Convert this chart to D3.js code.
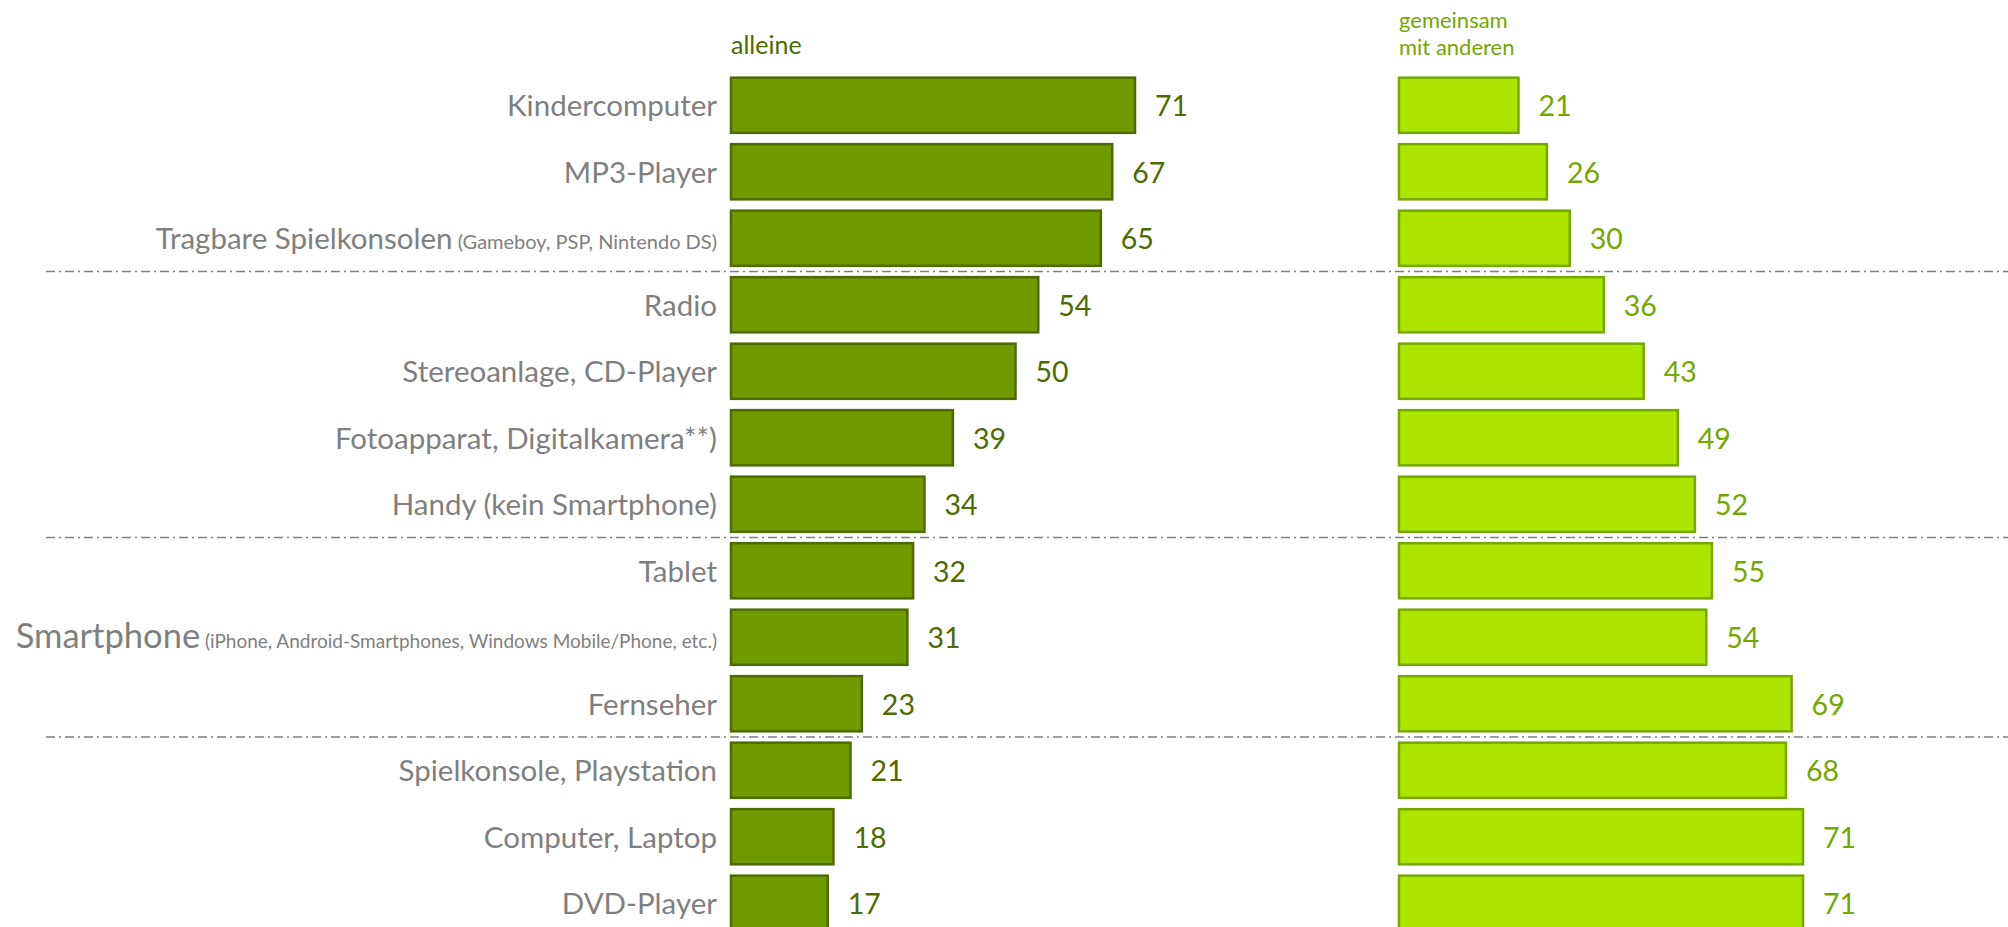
<!doctype html>
<html>
<head>
  <meta charset="utf-8">
  <title>alleine / gemeinsam</title>
  <style>
    html, body { margin: 0; padding: 0; background: #fff; }
    svg { display: block; }
    text { font-family: Lato, "Open Sans", sans-serif; }
  </style>
</head>
<body>
  <div id="chart"></div>

  <script src="https://d3js.org/d3.v7.min.js"></script>
  <script>

    // ..... Data .....
    const categories = [
      "Kindercomputer", "MP3-Player", "Tragbare Spielkonsolen",
      "Radio", "Stereoanlage, CD-Player", "Fotoapparat, Digitalkamera**)", "Handy (kein Smartphone)",
      "Tablet", "Smartphone", "Fernseher",
      "Spielkonsole, Playstation", "Computer, Laptop", "DVD-Player"
    ];
    const notes = ["", "", "(Gameboy, PSP, Nintendo DS)",
      "", "", "", "",
      "", "(iPhone, Android-Smartphones, Windows Mobile/Phone, etc.)", "",
      "", "", ""];
    const alleine = [71, 67, 65, 54, 50, 39, 34, 32, 31, 23, 21, 18, 17];
    const gemeinsam = [21, 26, 30, 36, 43, 49, 52, 55, 54, 69, 68, 71, 71];
    const groupBreaks = ["Radio", "Tablet", "Spielkonsole, Playstation"];
    const seriesNames = [["alleine"], ["gemeinsam", "mit anderen"]];

    const width = 2008, height = 927;

    const svg = d3.select("#chart").append("svg")
        .attr("width", width)
        .attr("height", height);

    // ..... Scales .....
    const y = d3.scaleBand()
        .domain(categories)
        .range([72, 72 + 13 * 66.5])
        .paddingInner(0.17)
        .paddingOuter(0.085);

    const xLeft = d3.scaleLinear().domain([0, 71]).range([731, 1135]);
    const xRight = d3.scaleLinear().domain([0, 71]).range([1399, 1803]);

    // separators between groups (behind the bars)
    svg.selectAll("line.sep")
      .data(groupBreaks)
      .join("line")
        .attr("class", "sep")
        .attr("x1", 46)
        .attr("x2", width)
        .attr("y1", d => y(d) - y.step() * y.paddingInner() / 2)
        .attr("y2", d => y(d) - y.step() * y.paddingInner() / 2)
        .style("stroke", "#7f7f7f")
        .style("stroke-width", 1.6)
        .style("stroke-dasharray", "9,4,2,4");

    // ..... Series .....
    const series = [
      { vals: alleine, x: xLeft, fill: "#709a00", stroke: "#4e6a00", text: "#4e6a00", head: "25px", hy: 54 },
      { vals: gemeinsam, x: xRight, fill: "#ace600", stroke: "#78a800", text: "#76a600", head: "22px", hy: 28 }
    ];

    series.forEach((s, k) => {
      const g = svg.append("g");
      g.selectAll("rect")
        .data(s.vals)
        .join("rect")
          .attr("x", s.x(0))
          .attr("y", (d, i) => y(categories[i]))
          .attr("width", d => s.x(d) - s.x(0))
          .attr("height", y.bandwidth())
          .style("fill", s.fill)
          .style("stroke", s.stroke)
          .style("stroke-width", 2.5);

      g.selectAll("text.val")
        .data(s.vals)
        .join("text")
          .attr("class", "val")
          .attr("x", d => s.x(d) + 20)
          .attr("y", (d, i) => y(categories[i]) + y.bandwidth() / 2)
          .attr("dy", "0.38em")
          .style("fill", s.text)
          .style("font-size", "28.5px")
          .text(d => d);

      // header
      const head = svg.append("text")
          .attr("x", s.x(0))
          .attr("y", s.hy)
          .style("fill", s.text)
          .style("font-size", s.head);
      head.selectAll("tspan")
        .data(seriesNames[k])
        .join("tspan")
          .attr("x", s.x(0))
          .attr("dy", (d, i) => i ? 27 : 0)
          .text(d => d);
    });

    // ..... Category labels .....
    const labels = svg.selectAll("text.cat")
      .data(categories)
      .join("text")
        .attr("class", "cat")
        .attr("x", 717)
        .attr("y", d => y(d) + y.bandwidth() / 2 + 11)
        .attr("text-anchor", "end")
        .style("fill", "#7f7f7f")
        .style("font-size", "29.5px");

    // the Smartphone row is set a bit larger in the original
    labels.append("tspan")
        .style("font-size", d => d === "Smartphone" ? "34.5px" : null)
        .text(d => d);
    labels.append("tspan")
        .style("font-size", d => d === "Smartphone" ? "19px" : "20px")
        .text((d, i) => notes[i] ? " " + notes[i] : "");
  </script>
</body>
</html>
